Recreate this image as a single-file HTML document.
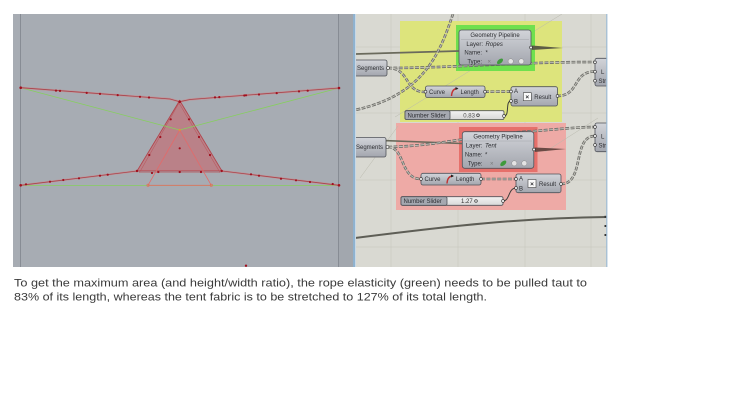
<!DOCTYPE html>
<html>
<head>
<meta charset="utf-8">
<style>
html,body{margin:0;padding:0;background:#fff;}
body{width:730px;height:411px;overflow:hidden;position:relative;font-family:"Liberation Sans",sans-serif;}
svg{position:absolute;left:0;top:0;}
.t{font-family:"Liberation Sans",sans-serif;font-size:6px;fill:#2e2f33;}
.ti{font-family:"Liberation Sans",sans-serif;font-size:6px;fill:#2e2f33;font-style:italic;}
.cap{font-family:"Liberation Sans",sans-serif;font-size:11px;fill:#3a3a3a;}
</style>
</head>
<body>
<svg width="730" height="411" viewBox="0 0 730 411" xmlns="http://www.w3.org/2000/svg">
<defs>
  <linearGradient id="ng" x1="0" y1="0" x2="0" y2="1">
    <stop offset="0" stop-color="#d2d4d9"/>
    <stop offset="1" stop-color="#a3a6ae"/>
  </linearGradient>
  <linearGradient id="sl" x1="0" y1="0" x2="0" y2="1">
    <stop offset="0" stop-color="#f2f2f2"/>
    <stop offset="1" stop-color="#d8d8d8"/>
  </linearGradient>
  <clipPath id="cv"><rect x="356" y="14" width="251" height="253"/></clipPath>
</defs>

<!-- ============ LEFT VIEWPORT ============ -->
<rect x="13" y="14" width="342" height="253" fill="#a7acb3"/>
<line x1="20.5" y1="14" x2="20.5" y2="267" stroke="#878c94" stroke-width="1"/>
<line x1="338.5" y1="14" x2="338.5" y2="267" stroke="#878c94" stroke-width="1"/>
<rect x="339" y="14" width="14" height="253" fill="#a2a7ae"/>
<rect x="353" y="14" width="2.5" height="253" fill="#8fb2cf"/>

<!-- triangle fill -->
<polygon points="179.7,100.5 137,171 222,171" fill="#c7676e" fill-opacity="0.62" stroke="#b2454d" stroke-width="0.9"/>
<polygon points="179,103 139.5,172.5 220,172.5" fill="none" stroke="#b85259" stroke-width="0.6" opacity="0.8"/>

<!-- green rope lines -->
<polyline points="20.7,87.7 179.7,130 339,88" fill="none" stroke="#86cf5e" stroke-width="0.8"/>
<line x1="20.7" y1="185.5" x2="339" y2="185.5" stroke="#86cf5e" stroke-width="0.8"/>

<!-- inner triangle -->
<polygon points="179.7,130 148,185.3 211.3,185.3" fill="none" stroke="#e36a6a" stroke-width="0.8"/>
<circle cx="148" cy="185.3" r="1.2" fill="none" stroke="#e07050" stroke-width="0.6"/>
<circle cx="211.3" cy="185.3" r="1.2" fill="none" stroke="#e07050" stroke-width="0.6"/>
<circle cx="179.7" cy="130" r="1.2" fill="#e09040"/>

<!-- red ropes -->
<polyline points="20.7,87.7 170,99 179.7,101.7 190,99.5 339,88" fill="none" stroke="#c98a8e" stroke-width="2.2" opacity="0.7"/>
<polyline points="20.7,87.7 170,99 179.7,101.7 190,99.5 339,88" fill="none" stroke="#a8444c" stroke-width="0.8"/>
<polyline points="20.7,185.3 137,171" fill="none" stroke="#c98a8e" stroke-width="2" opacity="0.7"/>
<polyline points="20.7,185.3 137,171" fill="none" stroke="#a8444c" stroke-width="0.8"/>
<polyline points="222,171 339,185.3" fill="none" stroke="#c98a8e" stroke-width="2" opacity="0.7"/>
<polyline points="222,171 339,185.3" fill="none" stroke="#a8444c" stroke-width="0.8"/>

<!-- dots -->
<g fill="#a0101e">
  <circle cx="20.7" cy="87.7" r="1.3"/><circle cx="339" cy="88" r="1.3"/>
  <circle cx="20.7" cy="185.3" r="1.3"/><circle cx="339" cy="185.3" r="1.3"/>
  <circle cx="179.7" cy="101.7" r="1.3"/><circle cx="137" cy="171" r="1.2"/><circle cx="221.7" cy="171" r="1.2"/>
  <circle cx="56" cy="90.6" r="1.1"/><circle cx="60" cy="90.9" r="1.1"/><circle cx="86.7" cy="92.9" r="1.1"/>
  <circle cx="100" cy="93.9" r="1.1"/><circle cx="117.7" cy="95.1" r="1.1"/><circle cx="140" cy="96.8" r="1.1"/><circle cx="149" cy="97.5" r="1.1"/>
  <circle cx="215" cy="97.4" r="1.1"/><circle cx="219.3" cy="97.1" r="1.1"/><circle cx="244.3" cy="95.5" r="1.1"/>
  <circle cx="246" cy="95.3" r="1.1"/><circle cx="259" cy="94.5" r="1.1"/><circle cx="276.7" cy="93.1" r="1.1"/>
  <circle cx="299" cy="91.4" r="1.1"/><circle cx="307.7" cy="90.7" r="1.1"/>
  <circle cx="170.7" cy="119.3" r="1.1"/><circle cx="160.3" cy="137" r="1.1"/><circle cx="149.3" cy="155" r="1.1"/>
  <circle cx="189" cy="119.3" r="1.1"/><circle cx="199" cy="137" r="1.1"/><circle cx="210" cy="155" r="1.1"/>
  <circle cx="152" cy="173" r="1.1"/><circle cx="158.3" cy="172" r="1.1"/><circle cx="179.7" cy="172" r="1.1"/><circle cx="201" cy="172" r="1.1"/>
  <circle cx="179.7" cy="148.3" r="1.1"/>
  <circle cx="26" cy="184.3" r="1.1"/><circle cx="50" cy="181.7" r="1.1"/><circle cx="63.3" cy="180" r="1.1"/>
  <circle cx="79" cy="178.3" r="1.1"/><circle cx="100" cy="175.7" r="1.1"/><circle cx="107.7" cy="174.7" r="1.1"/>
  <circle cx="251" cy="174.3" r="1.1"/><circle cx="259" cy="175.7" r="1.1"/><circle cx="281" cy="178.7" r="1.1"/>
  <circle cx="296" cy="180.3" r="1.1"/><circle cx="310" cy="182" r="1.1"/><circle cx="332.7" cy="184" r="1.1"/>
  <circle cx="246" cy="265.7" r="1.2"/>
</g>

<!-- ============ GRASSHOPPER CANVAS ============ -->
<rect x="356" y="14" width="251" height="253" fill="#d9d9d2"/>
<g clip-path="url(#cv)">
  <!-- grid -->
  <g stroke="#cacac2" stroke-width="0.7">
    <line x1="391" y1="14" x2="391" y2="267"/><line x1="458" y1="14" x2="458" y2="267"/>
    <line x1="525" y1="14" x2="525" y2="267"/><line x1="591" y1="14" x2="591" y2="267"/>
    <line x1="356" y1="47" x2="607" y2="47"/><line x1="356" y1="113" x2="607" y2="113"/>
    <line x1="356" y1="180" x2="607" y2="180"/><line x1="356" y1="247" x2="607" y2="247"/>
  </g>

  <!-- groups -->
  <rect x="400" y="21" width="162" height="101" fill="#dde47c"/>
  <rect x="396" y="123" width="170" height="87" fill="#eeaaa6"/>

  <!-- faint lines -->
  <g stroke="#b9b9ad" stroke-width="0.5" fill="none">
    <line x1="562" y1="14" x2="395" y2="117"/>
    <line x1="360" y1="178" x2="398" y2="126"/>
    <line x1="598" y1="118" x2="545" y2="152"/>
  </g>

  <!-- highlights -->
  <rect x="456" y="25" width="79" height="46" fill="#6fe04e"/>
  <rect x="459" y="127" width="78.5" height="45" fill="#e6706b"/>

  <!-- solid dark wires -->
  <path d="M355,54 L459,51" stroke="#6a6a5c" stroke-width="1.8" fill="none"/>
  <path d="M356,139.5 L462,143.5" stroke="#6a6a5c" stroke-width="1.6" fill="none"/>
  <path d="M355,238 C450,226 520,218 607,217" stroke="#5e5e56" stroke-width="2" fill="none"/>

  <!-- output bundles -->
  <polygon points="532,45.5 563,48 532,50" fill="#5d5d45"/>
  <polygon points="535,147.5 566,149 535,152" fill="#6b4a45"/>

  <!-- dashed list wires -->
  <g fill="none">
    <g stroke="#6c6c68" stroke-width="2.6" stroke-dasharray="4 1.4">
      <path d="M453,14 C440,52 425,95 355,110"/>
      <path d="M388,68 C450,68 520,62 595,62"/>
      <path d="M388,68 C410,68 404,92 425,92"/>
      <path d="M485,91.7 L511,91.5"/>
      <path d="M557,96 C580,96 572,71.5 595,71.5"/>
      <path d="M388,147 C440,146 480,134 535,131 C560,129 580,127 595,127"/>
      <path d="M388,147 C405,147 400,179 421,179"/>
      <path d="M481,179 L516,179"/>
      <path d="M561,184 C585,184 572,136 595,136"/>
    </g>
    <g stroke="#c4c4bc" stroke-width="0.9" stroke-dasharray="4 1.4">
      <path d="M453,14 C440,52 425,95 355,110"/>
      <path d="M388,68 C450,68 520,62 595,62"/>
      <path d="M388,68 C410,68 404,92 425,92"/>
      <path d="M485,91.7 L511,91.5"/>
      <path d="M557,96 C580,96 572,71.5 595,71.5"/>
      <path d="M388,147 C440,146 480,134 535,131 C560,129 580,127 595,127"/>
      <path d="M388,147 C405,147 400,179 421,179"/>
      <path d="M481,179 L516,179"/>
      <path d="M561,184 C585,184 572,136 595,136"/>
    </g>
    <path d="M504,116 C510,116 505,101 511,101" stroke="#3c3c3a" stroke-width="1"/>
    <path d="M503,201 C510,201 508,188 516,188" stroke="#3c3c3a" stroke-width="1"/>
  </g>

  <!-- ===== top nodes ===== -->
  <rect x="348" y="60" width="39" height="16" rx="2" fill="url(#ng)" stroke="#50535a" stroke-width="0.8"/>
  <text class="t" x="384" y="70" text-anchor="end">Segments</text>
  <circle cx="388" cy="68" r="1.5" fill="#eee" stroke="#333" stroke-width="0.6"/>

  <rect x="459" y="30" width="72" height="35" rx="2.5" fill="url(#ng)" stroke="#50535a" stroke-width="0.8"/>
  <line x1="461" y1="39.5" x2="529" y2="39.5" stroke="#9a9ca3" stroke-width="0.4"/>
  <text class="t" x="495" y="37" text-anchor="middle">Geometry Pipeline</text>
  <text class="t" x="483" y="45.8" text-anchor="end">Layer:</text><text class="ti" x="485.5" y="45.8">Ropes</text>
  <text class="t" x="482" y="54.6" text-anchor="end">Name:</text><text class="t" x="485.5" y="54.6">*</text>
  <text class="t" x="482" y="63.3" text-anchor="end">Type:</text>
  <text class="t" x="487.5" y="63.3" style="fill:#777">×</text>
  <ellipse cx="500" cy="61.3" rx="3.6" ry="2" transform="rotate(-40 500 61.3)" fill="#3f9a3c"/>
  <circle cx="510.7" cy="61.3" r="2.6" fill="#e4e4e4" stroke="#8a8a8a" stroke-width="0.5"/>
  <circle cx="521.3" cy="61.3" r="2.6" fill="#e4e4e4" stroke="#8a8a8a" stroke-width="0.5"/>
  <circle cx="531" cy="47.5" r="1.4" fill="#eee" stroke="#333" stroke-width="0.6"/>

  <rect x="425.5" y="86" width="59.5" height="11.5" rx="2" fill="url(#ng)" stroke="#50535a" stroke-width="0.8"/>
  <text class="t" x="429" y="93.8">Curve</text>
  <path d="M451.5,96 Q452,88.5 457.5,88.5" stroke="#c23232" stroke-width="1.4" fill="none"/>
  <path d="M455.5,87 L458.5,88.5 L455.5,90" fill="#222"/>
  <text class="t" x="460.5" y="93.8">Length</text>
  <circle cx="425.5" cy="91.7" r="1.4" fill="#eee" stroke="#333" stroke-width="0.6"/>
  <circle cx="485" cy="91.7" r="1.4" fill="#eee" stroke="#333" stroke-width="0.6"/>

  <rect x="511" y="86.7" width="46.5" height="19.3" rx="2" fill="url(#ng)" stroke="#50535a" stroke-width="0.8"/>
  <text class="t" x="514" y="93">A</text>
  <text class="t" x="514" y="103.5">B</text>
  <rect x="523.3" y="92.7" width="8" height="8" fill="#fafafa" stroke="#444" stroke-width="0.6"/>
  <text class="t" x="527.3" y="99" text-anchor="middle" style="font-size:6.5px;font-weight:bold">×</text>
  <text class="t" x="534.3" y="98.8">Result</text>
  <circle cx="511" cy="91.5" r="1.4" fill="#eee" stroke="#333" stroke-width="0.6"/>
  <circle cx="511" cy="101" r="1.4" fill="#eee" stroke="#333" stroke-width="0.6"/>
  <circle cx="557.5" cy="96" r="1.4" fill="#eee" stroke="#333" stroke-width="0.6"/>

  <rect x="405" y="110.7" width="99" height="8.8" rx="1.5" fill="url(#sl)" stroke="#50535a" stroke-width="0.8"/>
  <rect x="405" y="110.7" width="45" height="8.8" rx="1.5" fill="#a5a8b0" stroke="#50535a" stroke-width="0.8"/>
  <text class="t" x="407.5" y="117.3">Number Slider</text>
  <text class="t" x="463.3" y="117.3" style="fill:#555">0.83</text>
  <circle cx="478" cy="115.2" r="1.3" fill="none" stroke="#333" stroke-width="0.7"/>
  <circle cx="504" cy="116" r="1.4" fill="#eee" stroke="#333" stroke-width="0.6"/>

  <rect x="595" y="58.3" width="16" height="27.7" rx="2" fill="url(#ng)" stroke="#50535a" stroke-width="0.8"/>
  <text class="t" x="601" y="73.8">L</text>
  <text class="t" x="598.5" y="82.8">Str</text>
  <circle cx="595" cy="62.3" r="1.4" fill="#eee" stroke="#333" stroke-width="0.6"/>
  <circle cx="595" cy="71.7" r="1.4" fill="#eee" stroke="#333" stroke-width="0.6"/>
  <circle cx="595" cy="80.7" r="1.4" fill="#eee" stroke="#333" stroke-width="0.6"/>

  <!-- ===== bottom nodes ===== -->
  <rect x="348" y="137.5" width="38" height="19.5" rx="2" fill="url(#ng)" stroke="#50535a" stroke-width="0.8"/>
  <text class="t" x="383" y="149" text-anchor="end">Segments</text>
  <circle cx="387.5" cy="147" r="1.5" fill="#eee" stroke="#333" stroke-width="0.6"/>

  <rect x="462.3" y="131.7" width="71.5" height="36.6" rx="2.5" fill="url(#ng)" stroke="#50535a" stroke-width="0.8"/>
  <line x1="464" y1="141" x2="532" y2="141" stroke="#9a9ca3" stroke-width="0.4"/>
  <text class="t" x="498" y="138.3" text-anchor="middle">Geometry Pipeline</text>
  <text class="t" x="482.5" y="147.3" text-anchor="end">Layer:</text><text class="ti" x="485" y="147.3">Tent</text>
  <text class="t" x="482.5" y="156.3" text-anchor="end">Name:</text><text class="t" x="485" y="156.3">*</text>
  <text class="t" x="482.5" y="165.5" text-anchor="end">Type:</text>
  <text class="t" x="490" y="165.5" style="fill:#777">×</text>
  <ellipse cx="503.3" cy="163.3" rx="3.6" ry="2" transform="rotate(-40 503.3 163.3)" fill="#3f9a3c"/>
  <circle cx="514.3" cy="163.3" r="2.6" fill="#e4e4e4" stroke="#8a8a8a" stroke-width="0.5"/>
  <circle cx="524.3" cy="163.3" r="2.6" fill="#e4e4e4" stroke="#8a8a8a" stroke-width="0.5"/>
  <circle cx="534" cy="149.5" r="1.4" fill="#eee" stroke="#333" stroke-width="0.6"/>

  <rect x="421" y="173.3" width="60" height="11.7" rx="2" fill="url(#ng)" stroke="#50535a" stroke-width="0.8"/>
  <text class="t" x="424.5" y="181.2">Curve</text>
  <path d="M447,183.5 Q447.5,176 453,176" stroke="#c23232" stroke-width="1.4" fill="none"/>
  <path d="M451,174.5 L454,176 L451,177.5" fill="#222"/>
  <text class="t" x="456" y="181.2">Length</text>
  <circle cx="421" cy="179" r="1.4" fill="#eee" stroke="#333" stroke-width="0.6"/>
  <circle cx="481" cy="179" r="1.4" fill="#eee" stroke="#333" stroke-width="0.6"/>

  <rect x="516" y="174" width="45" height="18.7" rx="2" fill="url(#ng)" stroke="#50535a" stroke-width="0.8"/>
  <text class="t" x="519" y="180.5">A</text>
  <text class="t" x="519" y="190.5">B</text>
  <rect x="528" y="179.5" width="8" height="8" fill="#fafafa" stroke="#444" stroke-width="0.6"/>
  <text class="t" x="532" y="185.8" text-anchor="middle" style="font-size:6.5px;font-weight:bold">×</text>
  <text class="t" x="539" y="185.8">Result</text>
  <circle cx="516" cy="179" r="1.4" fill="#eee" stroke="#333" stroke-width="0.6"/>
  <circle cx="516" cy="188" r="1.4" fill="#eee" stroke="#333" stroke-width="0.6"/>
  <circle cx="561" cy="184" r="1.4" fill="#eee" stroke="#333" stroke-width="0.6"/>

  <rect x="401" y="196.7" width="102" height="8.6" rx="1.5" fill="url(#sl)" stroke="#50535a" stroke-width="0.8"/>
  <rect x="401" y="196.7" width="46" height="8.6" rx="1.5" fill="#a5a8b0" stroke="#50535a" stroke-width="0.8"/>
  <text class="t" x="403.5" y="203.2">Number Slider</text>
  <text class="t" x="461" y="203.2" style="fill:#333">1.27</text>
  <circle cx="476" cy="201" r="1.3" fill="none" stroke="#333" stroke-width="0.7"/>
  <circle cx="503" cy="201" r="1.4" fill="#eee" stroke="#333" stroke-width="0.6"/>

  <rect x="595" y="123" width="16" height="28.7" rx="2" fill="url(#ng)" stroke="#50535a" stroke-width="0.8"/>
  <text class="t" x="601" y="138.5">L</text>
  <text class="t" x="598.5" y="147.5">Str</text>
  <circle cx="595" cy="127" r="1.4" fill="#eee" stroke="#333" stroke-width="0.6"/>
  <circle cx="595" cy="136" r="1.4" fill="#eee" stroke="#333" stroke-width="0.6"/>
  <circle cx="595" cy="145" r="1.4" fill="#eee" stroke="#333" stroke-width="0.6"/>

  <g fill="#333">
    <rect x="604.5" y="215.8" width="2" height="2"/>
    <rect x="604.5" y="225" width="2" height="2"/>
    <rect x="604.5" y="234" width="2" height="2"/>
  </g>
</g>
<line x1="606.8" y1="14" x2="606.8" y2="267" stroke="#9dbbd4" stroke-width="1.2"/>

<!-- ============ CAPTION ============ -->
<text class="cap" x="14" y="286.5" textLength="573" lengthAdjust="spacingAndGlyphs">To get the maximum area (and height/width ratio), the rope elasticity (green) needs to be pulled taut to</text>
<text class="cap" x="14" y="300.5" textLength="473" lengthAdjust="spacingAndGlyphs">83% of its length, whereas the tent fabric is to be stretched to 127% of its total length.</text>
</svg>
</body>
</html>
